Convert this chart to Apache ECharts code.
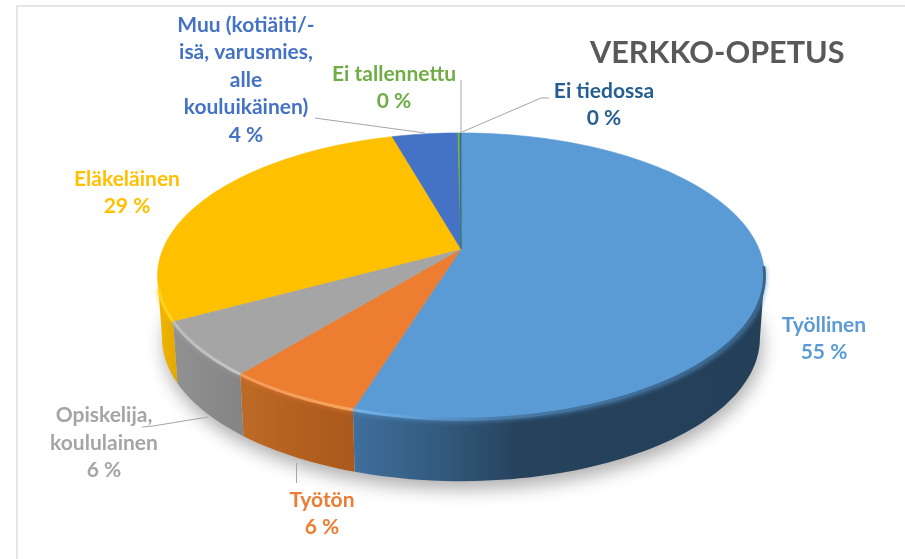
<!DOCTYPE html>
<html>
<head>
<meta charset="utf-8">
<title>Verkko-opetus</title>
<script src="https://cdn.jsdelivr.net/npm/echarts@6/dist/echarts.min.js"></script>
<style>
  html, body { margin: 0; padding: 0; background: #fff; }
  #chart { width: 905px; height: 559px; }
</style>
</head>
<body>
<div id="chart"></div>
<script>
// clockwise from 12 o'clock
const categories = ['Työllinen', 'Työtön', 'Opiskelija,\nkoululainen', 'Eläkeläinen', 'Muu (kotiäiti/-\nisä, varusmies,\nalle\nkouluikäinen)', 'Ei tallennettu', 'Ei tiedossa']
const shares = [54.8, 6.1, 6.2, 28.5, 4.2, 0.15, 0.05]
const colors = ['#5b9bd5', '#ed7d31', '#a5a5a5', '#ffc000', '#4472c4', '#70ad47', '#255e91']

// label centres and leader lines, same order as categories
const labelAt = [[824, 339], [322, 514], [104, 443], [127, 193], [246, 80], [394, 88], [604, 105]]
const leaders = [
  null,
  [[296.5, 463], [296.5, 483]],
  [[142, 427], [153, 426], [208, 417]],
  null,
  [[315, 118], [322, 119], [425, 133]],
  [[461, 80], [461, 133]],
  [[549, 98], [541, 98], [462, 132]],
]

// the disc is a circle seen in perspective
const cx = 461
const cy = 249
const R = 298
const H = 138
const k = 0.189
const depth = 62
const bottomScale = 0.985
const wallFrom = 100.9
const wallTo = 259.1
const rimFrom = 97
const rimTo = 254

const project = (deg) => {
  const a = deg * Math.PI / 180
  const u = Math.sin(a)
  const v = -Math.cos(a)
  const s = 1 / (1 - k * v)
  return [cx + R * u * s, cy + H * v * s]
}
const drop = (p) => [cx + (p[0] - cx) * bottomScale, p[1] + depth]

const arc = (from, to) => {
  const pts = []
  const n = Math.max(2, Math.ceil((to - from) / 1.5))
  for (let i = 0; i <= n; i++) pts.push(project(from + (to - from) * i / n))
  return pts
}

const total = shares.reduce((a, b) => a + b, 0)
const startAngle = (i) => shares.slice(0, i).reduce((a, b) => a + b, 0) / total * 360
const endAngle = (i) => startAngle(i + 1)

const hGrad = (x0, x1, stops) => ({
  type: 'linear', x: x0, y: 0, x2: x1, y2: 0, global: true,
  colorStops: stops.map((s) => ({ offset: (s[0] - x0) / (x1 - x0), color: s[1] })),
})

const wallFill = [
  hGrad(354, 767, [[354, '#3f6f9c'], [440, '#335a7e'], [520, '#26425c'], [767, '#243f58']]),
  hGrad(243, 354, [[243, '#bd6a26'], [300, '#b3601f'], [354, '#a9591c']]),
  hGrad(179, 243, [[179, '#909090'], [243, '#848484']]),
  hGrad(158, 180, [[158, '#f2b600'], [180, '#dfa600']]),
]
const rimFill = [
  hGrad(354, 767, [[354, '#74b4ea'], [420, '#5f9dd4'], [500, '#4a7ca8'], [640, '#3f6c94'], [767, '#3a6488']]),
  hGrad(243, 354, [[243, '#f29c58'], [354, '#f5a560']]),
  hGrad(179, 243, [[179, '#bdbdbd'], [243, '#c6c6c6']]),
  hGrad(158, 180, [[158, '#ffd21f'], [180, '#ffd21f']]),
]

const chart = echarts.init(document.getElementById('chart'), null, { renderer: 'canvas' })

const renderShadow = () => ({
  type: 'polygon',
  shape: { points: arc(0, 360).map(drop) },
  style: { fill: '#d0d0d0', shadowBlur: 18, shadowColor: 'rgba(0,0,0,0.32)', shadowOffsetX: 2, shadowOffsetY: 8 },
})

const renderWall = (params) => {
  const i = params.dataIndex
  const from = Math.max(startAngle(i), wallFrom)
  const to = Math.min(endAngle(i), wallTo)
  if (to <= from) return { type: 'group', children: [] }
  const top = arc(from, to)
  return {
    type: 'polygon',
    shape: { points: top.concat(top.map(drop).reverse()) },
    style: { fill: wallFill[i] || colors[i] },
  }
}

const renderTop = (params) => {
  const i = params.dataIndex
  const edge = arc(startAngle(i), endAngle(i))
  return {
    type: 'polygon',
    shape: { points: [[cx, cy]].concat(edge) },
    style: { fill: colors[i], stroke: colors[i], lineWidth: 0.6 },
  }
}

const renderRim = (params) => {
  const i = params.dataIndex
  const from = Math.max(startAngle(i), rimFrom)
  const to = Math.min(endAngle(i), rimTo)
  if (to <= from) return { type: 'group', children: [] }
  return {
    type: 'polyline',
    shape: { points: arc(from, to) },
    style: { stroke: rimFill[i] || colors[i], lineWidth: 3, fill: null, shadowBlur: 5, shadowColor: colors[i] },
  }
}

const renderLabel = (params, api) => {
  const i = params.dataIndex
  const children = []
  if (leaders[i]) {
    children.push({
      type: 'polyline',
      shape: { points: leaders[i] },
      style: { stroke: '#a6a6a6', lineWidth: 1, fill: null },
    })
  }
  children.push({
    type: 'text',
    x: labelAt[i][0],
    y: labelAt[i][1],
    style: {
      text: categories[i] + '\n' + Math.round(api.value(0)) + ' %',
      fill: colors[i],
      font: 'bold 21px Lato',
      lineHeight: 27.4,
      align: 'center',
      verticalAlign: 'middle',
    },
  })
  return { type: 'group', children }
}

const layer = (renderItem, z) => ({
  type: 'custom',
  coordinateSystem: 'none',
  renderItem,
  data: shares,
  z,
  silent: true,
  animation: false,
})

chart.setOption({
  animation: false,
  backgroundColor: '#fff',
  title: {
    text: 'VERKKO-OPETUS',
    left: 585,
    top: 33,
    textStyle: { color: '#595959', fontFamily: 'Lato', fontWeight: 'bold', fontSize: 30.6 },
  },
  graphic: [
    { type: 'polyline', shape: { points: [[17, 559], [17, 6], [905, 6]] }, style: { stroke: '#dedede', lineWidth: 1.5, fill: null } },
  ],
  series: [
    { ...layer(renderShadow, 1), data: [1] },
    layer(renderWall, 2),
    layer(renderTop, 3),
    layer(renderRim, 4),
    layer(renderLabel, 5),
  ],
})
</script>
</body>
</html>
